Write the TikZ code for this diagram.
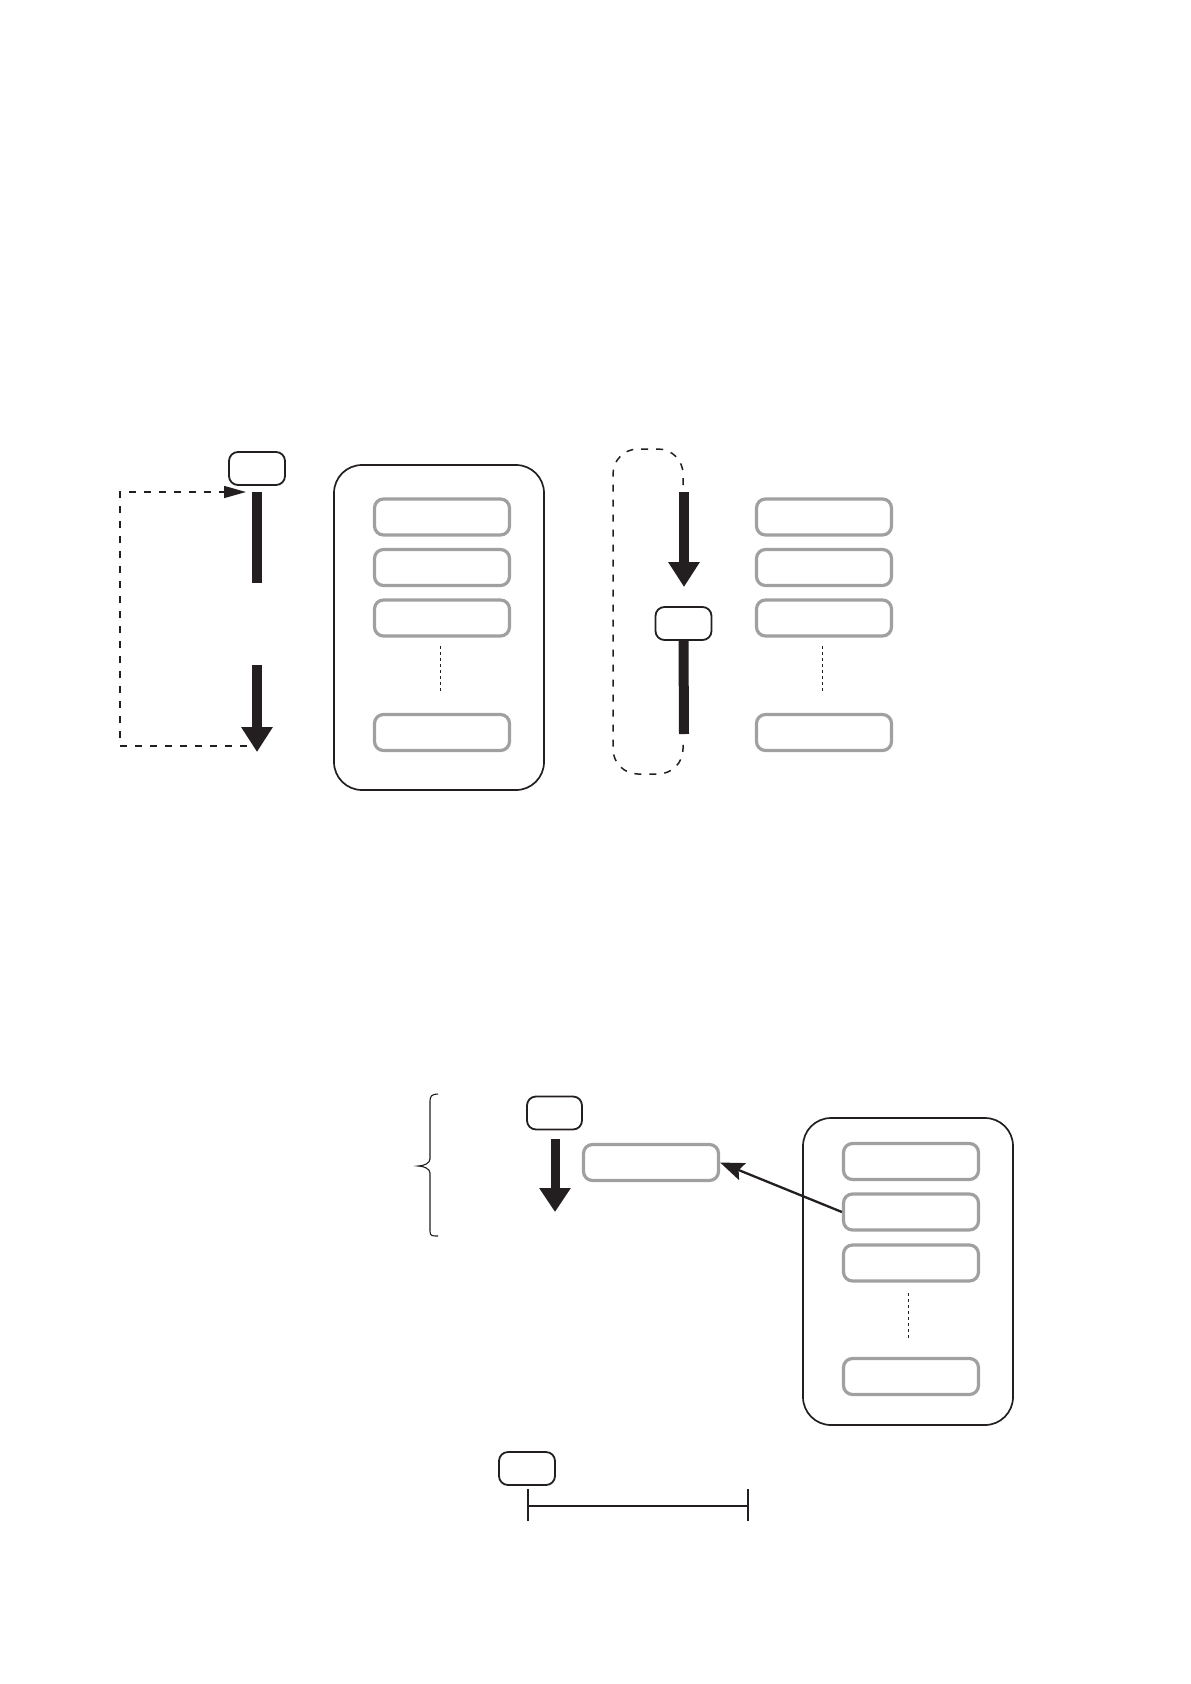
\documentclass[tikz,border=0pt]{standalone}
\usetikzlibrary{arrows.meta}
\definecolor{ink}{RGB}{35,31,32}
\definecolor{lightgray}{RGB}{160,160,160}
\tikzset{
  smallbox/.style={draw=ink, line width=1.8pt, rounded corners=9pt, minimum width=56pt, minimum height=33pt, inner sep=0pt},
  graybox/.style={draw=lightgray, line width=3.2pt, rounded corners=9pt, minimum width=135pt, minimum height=36pt, inner sep=0pt},
  frame/.style={draw=ink, line width=1.7pt, rounded corners=28pt, inner sep=0pt},
  thickbar/.style={draw=ink, line width=10pt},
  thickarrow/.style={draw=ink, line width=10pt, -{Triangle[length=25pt,width=30pt]}},
  dashline/.style={draw=ink, line width=1.5pt, dash pattern=on 7pt off 8pt},
  dotline/.style={draw=ink, line width=0.8pt, dash pattern=on 3pt off 3pt},
  thinline/.style={draw=ink, line width=1.1pt},
}
\begin{document}
\begin{tikzpicture}[x=1pt,y=-1pt]
\useasboundingbox (0,0) rectangle (1191,1684);
\fill[white] (0,0) rectangle (1191,1684);

% ---------- left diagram ----------
\node[smallbox] (sb1) at (257,468.5) {};
\coordinate (b1top) at (257,492);
\coordinate (b1bot) at (257,583);
\coordinate (a1top) at (257,665);
\coordinate (a1tip) at (257,752);
\draw[thickbar] (b1top) -- (b1bot);
\draw[thickarrow] (a1top) -- (a1tip);
\coordinate (dl1) at (247,746);
\coordinate (dl2) at (246,492);
\draw[dashline, -{Triangle[length=22pt,width=12pt]}] (dl1) -| (120,492) -- (dl2);

\node[frame, minimum width=210pt, minimum height=325pt] (frame1) at (439,627.5) {};
\node[graybox] (g11) at (442,517) {};
\node[graybox] (g12) at (442,567.5) {};
\node[graybox] (g13) at (442,618) {};
\node[graybox] (g14) at (442,732.5) {};
\coordinate (d1a) at (440,646);
\coordinate (d1b) at (440,693);
\draw[dotline] (d1a) -- (d1b);

% ---------- middle diagram ----------
\coordinate (m1) at (683,485);
\coordinate (m2) at (683,743);
\draw[dashline, rounded corners=25pt] (m1) -- (683,449) -- (613,449) -- (613,774) -- (683,774) -- (m2);
\coordinate (a2top) at (684,492);
\coordinate (a2tip) at (684,587);
\draw[thickarrow] (a2top) -- (a2tip);
\node[smallbox] (sb2) at (683.5,623.5) {};
\coordinate (b2bot) at (684,734);
\draw[thickbar] (sb2.south) -- (b2bot);

\node[graybox] (g21) at (824,517) {};
\node[graybox] (g22) at (824,567.5) {};
\node[graybox] (g23) at (824,618) {};
\node[graybox] (g24) at (824,732.5) {};
\coordinate (d2a) at (822,646);
\coordinate (d2b) at (822,693);
\draw[dotline] (d2a) -- (d2b);

% ---------- bottom diagram ----------
\draw[thinline] (438,1094) .. controls (432,1094) and (430,1096) .. (430,1101)
  -- (430,1159) .. controls (430,1163) and (424,1166) .. (418,1166)
  .. controls (424,1166) and (430,1169) .. (430,1173)
  -- (430,1231) .. controls (430,1236) and (432,1236) .. (438,1236);

\node[smallbox, minimum width=55pt] (sb3) at (554.5,1113) {};
\coordinate (a3top) at (555,1139);
\coordinate (a3tip) at (555,1212);
\draw[ink, line width=9pt, -{Triangle[length=24pt,width=30pt]}] (a3top) -- (a3tip);
\node[graybox] (gb) at (651,1162.5) {};

\node[frame, minimum width=210pt, minimum height=307pt] (frame2) at (908,1271.5) {};
\node[graybox] (g31) at (911,1161.5) {};
\node[graybox] (g32) at (911,1212) {};
\node[graybox] (g33) at (911,1263) {};
\node[graybox] (g34) at (911,1376.5) {};
\coordinate (d3a) at (908,1293);
\coordinate (d3b) at (908,1338);
\draw[dotline] (d3a) -- (d3b);
\draw[ink, line width=2.3pt, -{Stealth[length=24pt,width=18pt,inset=4pt]}] (g32.west) -- (gb.east);

% ---------- scale bar ----------
\node[smallbox] (sb4) at (527,1468.5) {};
\coordinate (s1) at (528,1506);
\coordinate (s2) at (748,1506);
\draw[thinline] (s1) -- (s2);
\draw[thinline] (528,1489) -- (528,1521);
\draw[thinline] (748,1489) -- (748,1521);
\end{tikzpicture}
\end{document}
